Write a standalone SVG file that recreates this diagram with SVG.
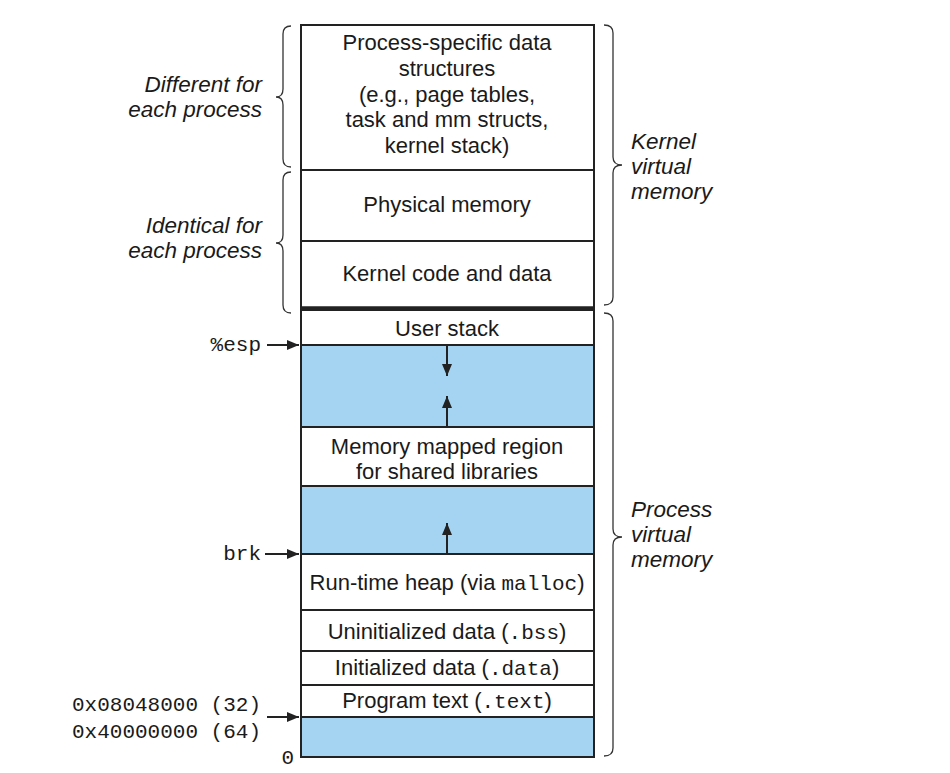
<svg xmlns="http://www.w3.org/2000/svg" width="950" height="773" viewBox="0 0 950 773">
<defs>
<style>
.lbl{font-family:"Liberation Sans",Arial,sans-serif;font-size:22px;fill:#1a1a1a;text-anchor:middle}
.it{font-family:"Liberation Sans",Arial,sans-serif;font-size:22.5px;font-style:italic;fill:#1a1a1a}
.mono{font-family:"Liberation Mono","Courier New",monospace;font-size:21px;fill:#1a1a1a}
.tt{font-family:"Liberation Mono","Courier New",monospace;font-size:21px}
.cell{fill:#ffffff;stroke:#222;stroke-width:2}
.blue{fill:#a4d4f2;stroke:#222;stroke-width:2}
.brace{fill:none;stroke:#333;stroke-width:1.3}
.arr{stroke:#222;stroke-width:2;fill:none;marker-end:url(#ah)}
</style>
<marker id="ah" viewBox="0 0 12 10" refX="12" refY="5" markerWidth="12" markerHeight="10" markerUnits="userSpaceOnUse" orient="auto">
<path d="M0,0 L12,5 L0,10 Z" fill="#222"/>
</marker>
</defs>
<rect width="950" height="773" fill="#ffffff"/>

<g id="node-process-specific"><rect class="cell" x="301" y="25" width="293" height="145"/>
<text class="lbl" x="447" y="50">Process-specific data</text>
<text class="lbl" x="447" y="76">structures</text>
<text class="lbl" x="447" y="102">(e.g., page tables,</text>
<text class="lbl" x="447" y="127">task and mm structs,</text>
<text class="lbl" x="447" y="153">kernel stack)</text></g>
<g id="node-physical-memory"><rect class="cell" x="301" y="170" width="293" height="71"/>
<text class="lbl" x="447" y="212">Physical memory</text></g>
<g id="node-kernel-code"><rect class="cell" x="301" y="241" width="293" height="67"/>
<text class="lbl" x="447" y="281">Kernel code and data</text></g>
<g id="divider"><line x1="300" y1="308.5" x2="595" y2="308.5" stroke="#222" stroke-width="4.5"/></g>
<g id="node-user-stack"><rect class="cell" x="301" y="310" width="293" height="35"/>
<text class="lbl" x="447" y="336">User stack</text></g>
<g id="node-gap1"><rect class="blue" x="301" y="345" width="293" height="82"/></g>
<g id="node-mmap"><rect class="cell" x="301" y="427" width="293" height="59"/>
<text class="lbl" x="447" y="454">Memory mapped region</text>
<text class="lbl" x="447" y="479">for shared libraries</text></g>
<g id="node-gap2"><rect class="blue" x="301" y="486" width="293" height="68"/></g>
<g id="node-heap"><rect class="cell" x="301" y="554" width="293" height="56"/>
<text class="lbl" x="447" y="590">Run-time heap (via <tspan class="tt">malloc</tspan>)</text></g>
<g id="node-bss"><rect class="cell" x="301" y="610" width="293" height="41"/>
<text class="lbl" x="447" y="639">Uninitialized data (<tspan class="tt">.bss</tspan>)</text></g>
<g id="node-data"><rect class="cell" x="301" y="651" width="293" height="34"/>
<text class="lbl" x="447" y="675">Initialized data (<tspan class="tt">.data</tspan>)</text></g>
<g id="node-text"><rect class="cell" x="301" y="685" width="293" height="32"/>
<text class="lbl" x="447" y="708">Program text (<tspan class="tt">.text</tspan>)</text></g>
<g id="node-gap3"><rect class="blue" x="301" y="717" width="293" height="40"/></g>

<g id="connectors">
<line class="arr" x1="267" y1="345" x2="299" y2="345"/>
<line class="arr" x1="265" y1="554" x2="299" y2="554"/>
<line class="arr" x1="267" y1="717" x2="299" y2="717"/>
<line class="arr" x1="447" y1="346" x2="447" y2="376"/>
<line class="arr" x1="447" y1="426" x2="447" y2="396"/>
<line class="arr" x1="447" y1="553" x2="447" y2="523"/>
</g>

<g id="braces">
<path class="brace" d="M291,26 Q283,26 283,34 L283,89 Q283,97 276,97 Q283,97 283,105 L283,159 Q283,167 291,167"/>
<path class="brace" d="M291,172 Q283,172 283,180 L283,235 Q283,243 276,243 Q283,243 283,251 L283,305 Q283,313 291,313"/>
<path class="brace" d="M604,25 Q613,25 613,33 L613,157 Q613,165 622,165 Q613,165 613,173 L613,297 Q613,305 604,305"/>
<path class="brace" d="M604,313 Q613,313 613,321 L613,529 Q613,537 622,537 Q613,537 613,545 L613,748 Q613,756 604,756"/>
</g>

<g id="labels">
<text class="it" x="262" y="92" text-anchor="end">Different for</text>
<text class="it" x="262" y="117" text-anchor="end">each process</text>
<text class="it" x="262" y="233" text-anchor="end">Identical for</text>
<text class="it" x="262" y="258" text-anchor="end">each process</text>
<text class="it" x="631" y="149">Kernel</text>
<text class="it" x="631" y="174">virtual</text>
<text class="it" x="631" y="199">memory</text>
<text class="it" x="631" y="517">Process</text>
<text class="it" x="631" y="542">virtual</text>
<text class="it" x="631" y="567">memory</text>
<text class="mono" x="261" y="351" text-anchor="end">%esp</text>
<text class="mono" x="261" y="560" text-anchor="end">brk</text>
<text class="mono" x="261" y="711" text-anchor="end">0x08048000 (32)</text>
<text class="mono" x="261" y="738" text-anchor="end">0x40000000 (64)</text>
<text class="mono" x="294" y="764" text-anchor="end">0</text>
</g>
</svg>
